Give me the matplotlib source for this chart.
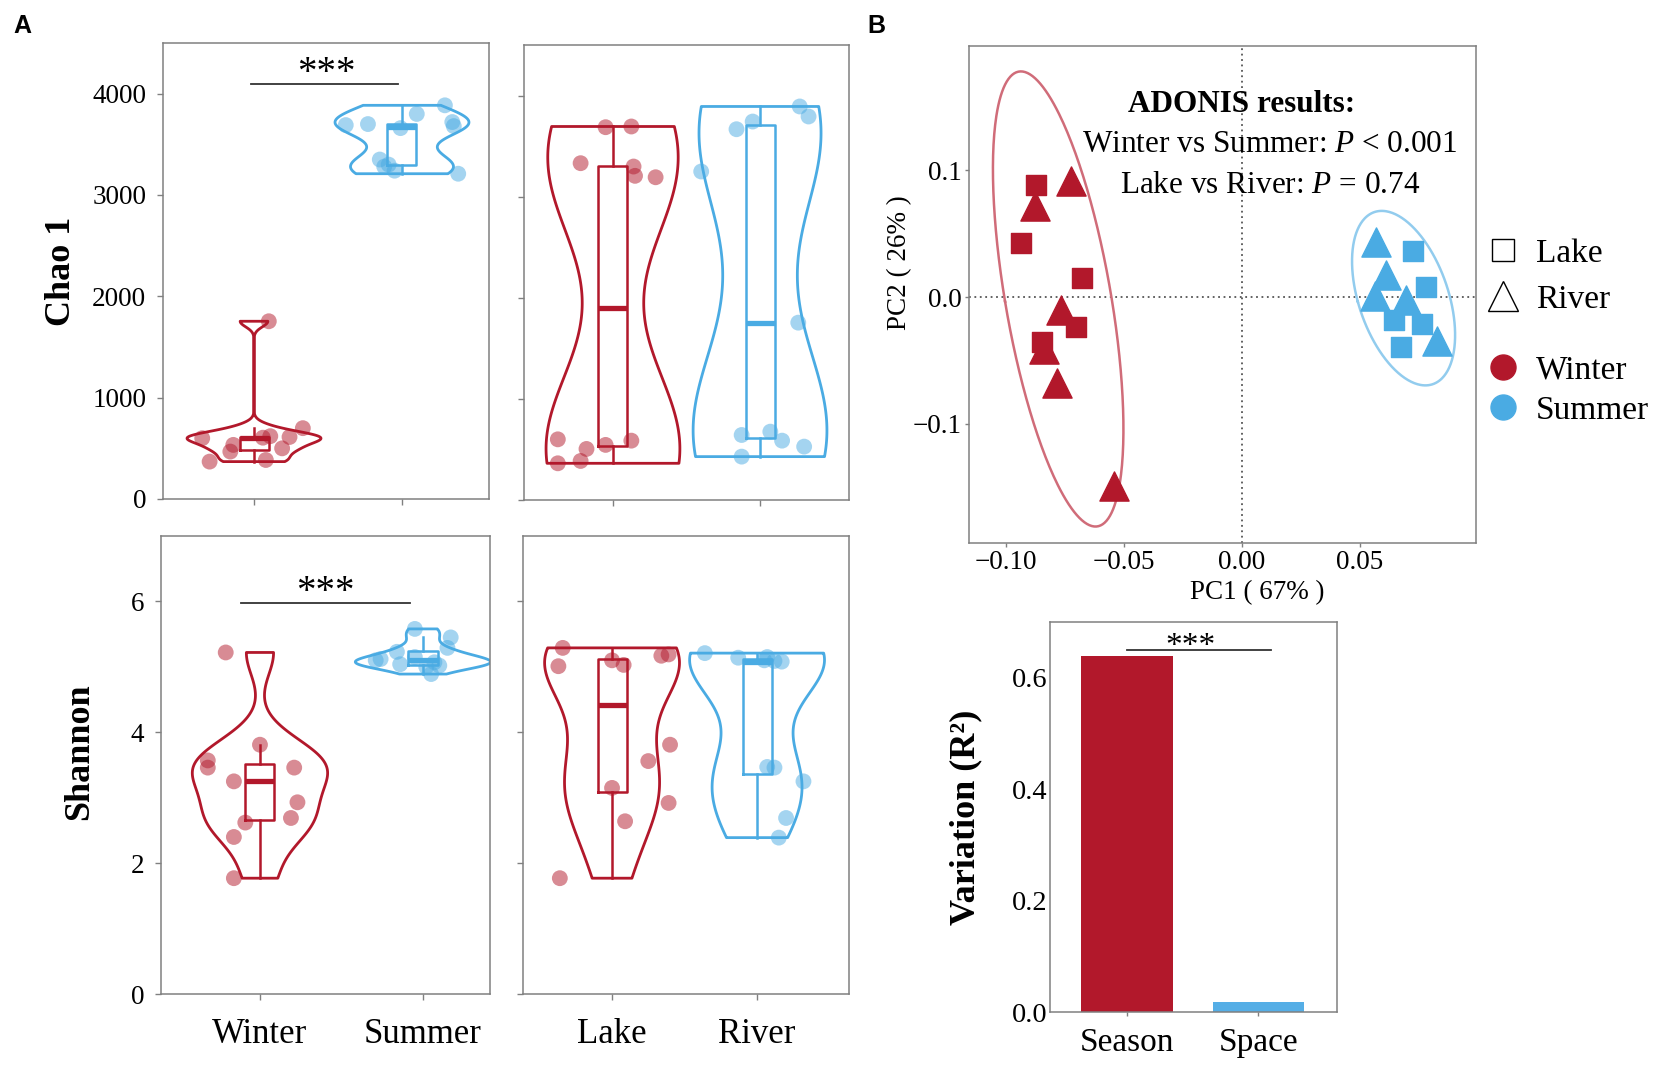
import numpy as np
import matplotlib
matplotlib.use("Agg")
import matplotlib.pyplot as plt
from matplotlib.lines import Line2D

plt.rcParams['font.family'] = ['Liberation Serif', 'DejaVu Serif']
plt.rcParams['mathtext.fontset'] = 'custom'
plt.rcParams['mathtext.rm'] = 'Liberation Serif'
plt.rcParams['mathtext.it'] = 'Liberation Serif:italic'
plt.rcParams['axes.unicode_minus'] = True

# ---------------- data ----------------
season_labels = ['Winter', 'Summer']
site_labels = ['Lake', 'River']

chao1_winter = [369, 385, 468, 500, 534, 600, 605, 612, 620, 699, 1754]
chao1_winter_jit = [-0.30, 0.08, -0.16, 0.19, -0.14, -0.35, 0.06, 0.24, 0.11, 0.33, 0.10]
chao1_summer = [3210, 3240, 3280, 3300, 3350, 3660, 3680, 3690, 3700, 3720, 3800, 3885]
chao1_summer_jit = [0.38, -0.05, -0.12, -0.09, -0.15, -0.01, 0.35, -0.38, -0.23, 0.34, 0.10, 0.29]
chao1_lake = [363, 386, 505, 545, 587, 600, 3192, 3206, 3298, 3331, 3687, 3694]
chao1_lake_jit = [-0.375, -0.22, -0.18, -0.05, 0.125, -0.375, 0.29, 0.15, 0.14, -0.22, -0.05, 0.125]
chao1_river = [429, 528, 587, 643, 676, 1754, 3249, 3667, 3743, 3793, 3892]
chao1_river_jit = [-0.125, 0.30, 0.15, -0.125, 0.07, 0.26, -0.40, -0.16, -0.05, 0.33, 0.27]

shannon_winter = [1.77, 2.40, 2.62, 2.69, 2.93, 3.25, 3.46, 3.46, 3.57, 3.81, 5.22]
shannon_winter_jit = [-0.16, -0.16, -0.09, 0.19, 0.23, -0.16, 0.21, -0.32, -0.32, 0.0, -0.21]
shannon_summer = [4.89, 5.00, 5.02, 5.04, 5.07, 5.10, 5.12, 5.15, 5.23, 5.29, 5.45, 5.58]
shannon_summer_jit = [0.05, 0.02, 0.10, -0.14, 0.07, -0.29, -0.26, -0.05, -0.16, 0.15, 0.17, -0.05]
shannon_lake = [1.77, 2.64, 2.92, 3.15, 3.56, 3.81, 5.01, 5.03, 5.10, 5.17, 5.19, 5.29]
shannon_lake_jit = [-0.36, 0.09, 0.39, 0.0, 0.25, 0.40, -0.37, 0.08, 0.0, 0.34, 0.39, -0.34]
shannon_river = [2.39, 2.69, 3.25, 3.46, 3.47, 5.08, 5.09, 5.10, 5.14, 5.15, 5.21]
shannon_river_jit = [0.15, 0.20, 0.32, 0.12, 0.07, 0.17, 0.12, 0.05, -0.13, 0.07, -0.36]

pc1_winter_lake = [-0.0873, -0.0938, -0.0676, -0.0702, -0.0848]
pc2_winter_lake = [0.0884, 0.0430, 0.0150, -0.0240, -0.0356]
pc1_winter_river = [-0.0723, -0.0876, -0.0766, -0.0841, -0.0783, -0.0543]
pc2_winter_river = [0.0916, 0.0719, -0.0100, -0.0406, -0.0675, -0.1490]
pc1_summer_lake = [0.0725, 0.0779, 0.0644, 0.0762, 0.0672]
pc2_summer_lake = [0.0363, 0.0081, -0.0178, -0.0209, -0.0391]
pc1_summer_river = [0.0569, 0.0612, 0.0564, 0.0697, 0.0826]
pc2_summer_river = [0.0438, 0.0175, 0.0006, -0.0022, -0.0350]

pc1_ticks = [-0.10, -0.05, 0.00, 0.05]
pc1_ticklabels = ['\u22120.10', '\u22120.05', '0.00', '0.05']
pc2_ticks = [-0.1, 0.0, 0.1]
pc2_ticklabels = ['\u22120.1', '0.0', '0.1']

factor_labels = ['Season', 'Space']
factor_r2 = [0.639, 0.018]

RED = '#B2182B'
BLUE = '#4AABE3'
SPINE = '#808080'

W, H = 1654, 1071
fig = plt.figure(figsize=(W / 100, H / 100), dpi=100)


def axes_px(left, top, right, bottom):
    return fig.add_axes([left / W, 1 - bottom / H, (right - left) / W, (bottom - top) / H])


def style(ax, length=4, pad=8, size=19.5):
    for s in ax.spines.values():
        s.set_color(SPINE)
        s.set_linewidth(1.1)
    ax.tick_params(direction='out', length=length, width=1, colors=SPINE,
                   labelcolor='black', labelsize=size, pad=pad)


def nrd0(kde):
    x = np.ravel(kde.dataset)
    sd = np.std(x, ddof=1)
    q75, q25 = np.percentile(x, [75, 25])
    lo = min(sd, (q75 - q25) / 1.34)
    bw = 0.9 * lo * len(x) ** (-0.2)
    return bw / sd


def violin_box(ax, groups, jitters, colors, vwidth, bwidth):
    pos = np.arange(len(groups))
    parts = ax.violinplot(groups, positions=pos, widths=vwidth, showextrema=False,
                          bw_method=nrd0, points=300)
    for body, c in zip(parts['bodies'], colors):
        body.set_facecolor('none')
        body.set_edgecolor(c)
        body.set_linewidth(2.0)
        body.set_alpha(1)
    for i, (g, c) in enumerate(zip(groups, colors)):
        ax.boxplot([g], positions=[i], widths=bwidth, showfliers=False, showcaps=False,
                   manage_ticks=False,
                   boxprops=dict(color=c, linewidth=1.8),
                   whiskerprops=dict(color=c, linewidth=1.8),
                   medianprops=dict(color=c, linewidth=3.8, solid_capstyle='butt'))
    for i, (g, j, c) in enumerate(zip(groups, jitters, colors)):
        ax.scatter(i + np.asarray(j), g, s=130, color=c, alpha=0.5,
                   edgecolors='none', zorder=3)
    ax.set_xticks(pos)


# ---------------- Panel A ----------------
ax1 = axes_px(163, 43, 489, 499)
ax2 = axes_px(524, 45, 849, 500)
ax3 = axes_px(161, 536, 490, 994)
ax4 = axes_px(523, 536, 849, 994)

violin_box(ax1, [chao1_winter, chao1_summer], [chao1_winter_jit, chao1_summer_jit],
           [RED, BLUE], 0.905, 0.196)
violin_box(ax2, [chao1_lake, chao1_river], [chao1_lake_jit, chao1_river_jit],
           [RED, BLUE], 0.91, 0.197)
violin_box(ax3, [shannon_winter, shannon_summer], [shannon_winter_jit, shannon_summer_jit],
           [RED, BLUE], 0.83, 0.178)
violin_box(ax4, [shannon_lake, shannon_river], [shannon_lake_jit, shannon_river_jit],
           [RED, BLUE], 0.93, 0.20)

ax1.set_xlim(-0.615, 1.588)
ax2.set_xlim(-0.605, 1.605)
ax3.set_xlim(-0.607, 1.411)
ax4.set_xlim(-0.614, 1.634)
for ax in (ax1, ax2):
    ax.set_ylim(0, 4500)
    ax.set_yticks([0, 1000, 2000, 3000, 4000])
for ax in (ax3, ax4):
    ax.set_ylim(0, 7)
    ax.set_yticks([0, 2, 4, 6])
for ax in (ax1, ax2, ax3, ax4):
    style(ax)
for ax in (ax1, ax2):
    ax.tick_params(axis='x', labelbottom=False)
for ax in (ax2, ax4):
    ax.tick_params(axis='y', labelleft=False)
ax3.set_xticklabels(season_labels, fontsize=25)
ax4.set_xticklabels(site_labels, fontsize=25)
ax3.tick_params(axis='x', pad=13)
ax4.tick_params(axis='x', pad=13)

ax1.set_ylabel('Chao 1', fontsize=26, fontweight='bold')
ax1.yaxis.set_label_coords(-0.26, 0.5)
ax3.set_ylabel('Shannon', fontsize=26, fontweight='bold')
ax3.yaxis.set_label_coords(-0.198, 0.53)

# significance
ax1.plot([-0.02, 0.973], [4100, 4100], color='#333333', lw=1.3)
ax1.text(0.49, 4110, '***', ha='center', va='baseline', fontsize=28)
ax3.plot([-0.117, 0.92], [5.97, 5.97], color='#333333', lw=1.3)
ax3.text(0.40, 5.99, '***', ha='center', va='baseline', fontsize=28)

# ---------------- Panel B: PCoA ----------------
ax5 = axes_px(969, 46, 1476, 543)
style(ax5, length=3, pad=2, size=19.5)
ax5.axhline(0, color='#555555', ls=(0, (1, 2)), lw=1.3, zorder=0)
ax5.axvline(0, color='#555555', ls=(0, (1, 2)), lw=1.3, zorder=0)


def conf_ellipse(x, y, level=0.95):
    x = np.asarray(x)
    y = np.asarray(y)
    cov = np.cov(x, y)
    vals, vecs = np.linalg.eigh(cov)
    r = np.sqrt(-2 * np.log(1 - level))
    t = np.linspace(0, 2 * np.pi, 300)
    circ = np.vstack([np.cos(t), np.sin(t)])
    pts = vecs @ (np.sqrt(vals)[:, None] * circ) * r
    return x.mean() + pts[0], y.mean() + pts[1]


wx = pc1_winter_lake + pc1_winter_river
wy = pc2_winter_lake + pc2_winter_river
sx = pc1_summer_lake + pc1_summer_river
sy = pc2_summer_lake + pc2_summer_river
ex, ey = conf_ellipse(wx, wy)
ax5.plot(ex, ey, color='#D06C79', lw=1.8)
ex, ey = conf_ellipse(sx, sy)
ax5.plot(ex, ey, color='#92CCEE', lw=1.8)

ax5.scatter(pc1_winter_lake, pc2_winter_lake, marker='s', s=225, color=RED, zorder=3)
ax5.scatter(pc1_winter_river, pc2_winter_river, marker='^', s=441, color=RED, zorder=3)
ax5.scatter(pc1_summer_lake, pc2_summer_lake, marker='s', s=225, color=BLUE, zorder=3)
ax5.scatter(pc1_summer_river, pc2_summer_river, marker='^', s=441, color=BLUE, zorder=3)

ax5.set_xlim(-0.1157, 0.0992)
ax5.set_ylim(-0.194, 0.198)
ax5.set_xticks(pc1_ticks)
ax5.set_xticklabels(pc1_ticklabels)
ax5.set_yticks(pc2_ticks)
ax5.set_yticklabels(pc2_ticklabels)
ax5.set_xlabel('PC1 ( 67% )', fontsize=19.5)
ax5.xaxis.set_label_coords(0.568, -0.075)
ax5.set_ylabel('PC2 ( 26% )', fontsize=19.5)
ax5.yaxis.set_label_coords(-0.112, 0.565)

ax5.text(0.0, 0.152, 'ADONIS results:', ha='center', va='center', fontsize=22.5,
         fontweight='bold')
ax5.text(0.0119, 0.120, 'Winter vs Summer: $P$ < 0.001', ha='center', va='center',
         fontsize=22.5)
ax5.text(0.0119, 0.0878, 'Lake vs River: $P$ = 0.74', ha='center', va='center',
         fontsize=22.5)

shape_handles = [Line2D([], [], marker='s', ls='none', mfc='white', mec='black', mew=1.0, ms=16),
                 Line2D([], [], marker='^', ls='none', mfc='white', mec='black', mew=1.0, ms=22)]
color_handles = [Line2D([], [], marker='o', ls='none', color=RED, ms=18),
                 Line2D([], [], marker='o', ls='none', color=BLUE, ms=18)]
leg1 = fig.legend(shape_handles, site_labels, loc='center left',
                  bbox_to_anchor=(1486 / W, 1 - 276.5 / H), frameon=False, fontsize=24,
                  handlelength=1.0, handletextpad=0.5, labelspacing=0.45, borderpad=0,
                  borderaxespad=0)
leg2 = fig.legend(color_handles, season_labels, loc='center left',
                  bbox_to_anchor=(1486 / W, 1 - 390.5 / H), frameon=False, fontsize=24,
                  handlelength=1.0, handletextpad=0.5, labelspacing=0.3, borderpad=0,
                  borderaxespad=0)

# ---------------- Panel B: bar ----------------
ax6 = axes_px(1050, 622, 1337, 1012)
style(ax6, length=3, pad=2, size=20.5)
ax6.tick_params(axis='y', length=0, pad=2)
ax6.bar(np.arange(len(factor_labels)), factor_r2, width=0.7, color=[RED, '#55AEE6'])
ax6.set_xlim(-0.59, 1.60)
ax6.set_ylim(0, 0.7)
ax6.set_yticks([0.0, 0.2, 0.4, 0.6])
ax6.set_yticklabels(['0.0', '0.2', '0.4', '0.6'])
ax6.set_xticks(np.arange(len(factor_labels)))
ax6.set_xticklabels(factor_labels, fontsize=24)
ax6.tick_params(axis='x', pad=8)
ax6.set_ylabel('Variation (R\u00b2)', fontsize=26, fontweight='bold')
ax6.yaxis.set_label_coords(-0.237, 0.5)
ax6.plot([0.0, 1.1], [0.65, 0.65], color='#333333', lw=1.3)
ax6.text(0.48, 0.641, '***', ha='center', va='baseline', fontsize=24)

# panel letters
fig.text(13 / W, 1 - 14 / H, 'A', fontsize=18, fontweight='bold', family='Liberation Sans',
         va='top', ha='left')
fig.text(867 / W, 1 - 14 / H, 'B', fontsize=18, fontweight='bold', family='Liberation Sans',
         va='top', ha='left')

fig.savefig('out.png', dpi=100)
